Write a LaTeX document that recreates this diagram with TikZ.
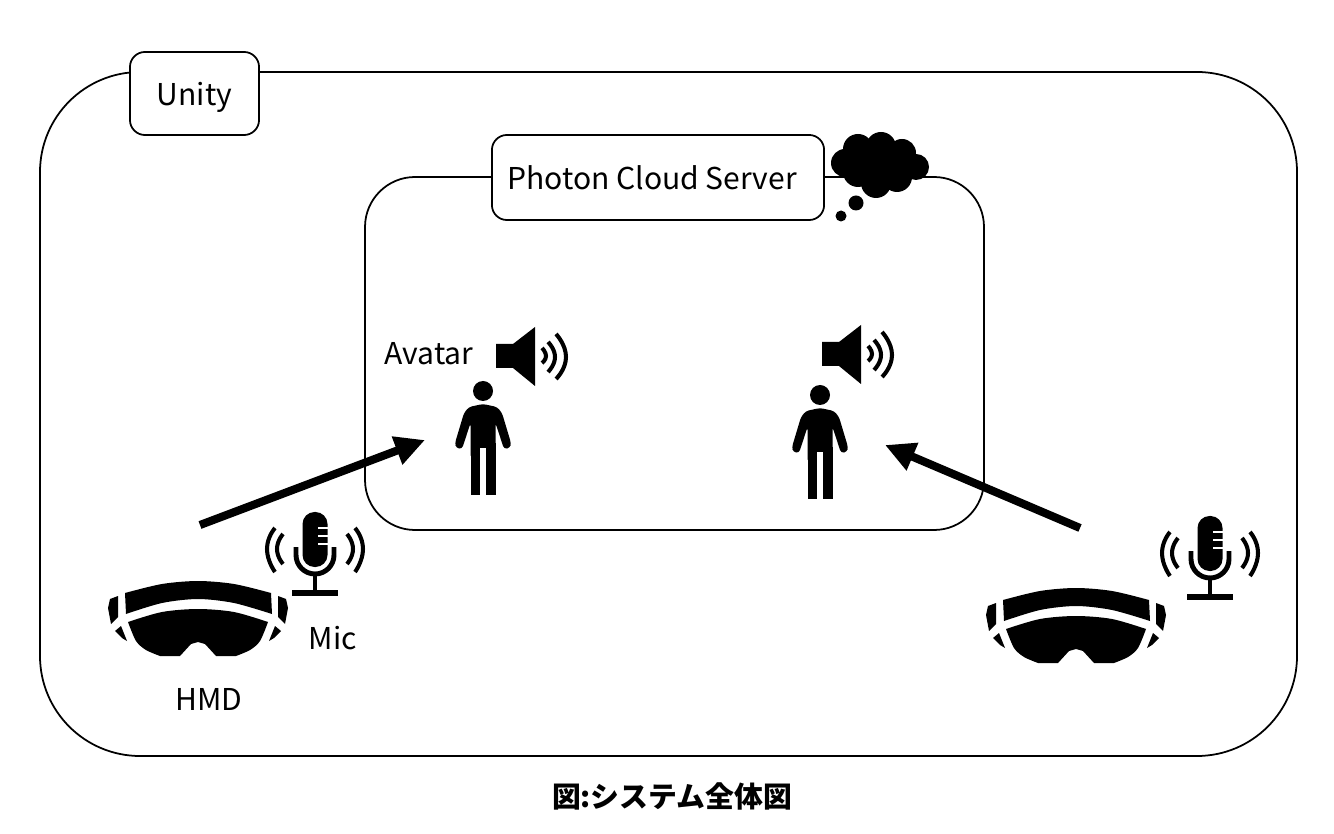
\documentclass[tikz,border=0pt]{standalone}
\usepackage{fontspec}
\setmainfont{Noto Sans CJK JP}
\usetikzlibrary{arrows.meta}
\tikzset{
    frame/.style={draw, line width=0.5pt},
    label box/.style={draw, line width=0.5pt, fill=white, rounded corners=0.15cm},
    lbl/.style={font=\fontsize{8.55}{10}\selectfont, inner sep=0pt},
    flow/.style={line width=2.3pt, -{Triangle[length=8.5pt,width=8pt]}},
    wave/.style={line width=1.15pt},
    % headset, origin at the middle of its top edge
    hmd/.pic={
        \fill plot[smooth] coordinates {(-73,12) (-36,3) (0,0) (36,3) (73,12)} -- (74,33)
            -- plot[smooth] coordinates {(74,33) (36,22) (0,18) (-36,22) (-72,33)} -- cycle;
        \fill plot[smooth] coordinates {(-70,41) (-36,31) (0,28) (36,31) (70,41)}
            -- plot[smooth] coordinates {(70,41) (62,60) (52,69) (38,75)} -- (18,75) -- (7,63) -- (0,61) -- (-7,63) -- (-18,75)
            -- plot[smooth] coordinates {(-38,75) (-52,69) (-62,60) (-70,41)} -- cycle;
        \foreach \s in {-1,1} {
            \fill (\s*80,15) -- (\s*88,18) -- (\s*90,27) -- (\s*87,43) -- (\s*80,36) -- cycle;
            \fill (\s*83,50) -- (\s*77,45) -- (\s*71,60) -- (\s*76,57) -- cycle;
        }
    },
    % microphone, origin at the top of the capsule
    mic/.pic={
        \fill[rounded corners=0.12cm] (-12.5,0) rectangle (12.5,55);
        \foreach \y in {16,24,32} {
            \draw[white, line width=0.6pt] (3,\y) -- (13,\y);
        }
        \draw[line width=1.4pt] (-19,35) -- (-19,43) arc[start angle=180, end angle=0, radius=19] -- (19,35);
        \draw[line width=1.4pt] (0,62) -- (0,80);
        \fill (-23,78) rectangle (23,84);
        \foreach \s in {-1,1} {
            \draw[wave] plot[smooth, tension=1] coordinates {(\s*32,22) (\s*38,37) (\s*32,52)};
            \draw[wave] plot[smooth, tension=1] coordinates {(\s*40,16) (\s*48,37) (\s*40,60)};
        }
    },
    % loudspeaker, origin at the left edge of the box
    speaker/.pic={
        \fill (0,-12) -- (17,-12) -- (39,-29) -- (39,30) -- (17,12) -- (0,12) -- cycle;
        \draw[wave] plot[smooth, tension=1] coordinates {(46,-8) (50,0) (46,7)};
        \draw[wave] plot[smooth, tension=1] coordinates {(52,-14) (59,1) (52,16)};
        \draw[wave] plot[smooth, tension=1] coordinates {(60,-22) (70,1) (60,23)};
    },
    % person, origin at the top of the head
    person/.pic={
        \fill (0,8) circle[radius=10];
        \fill[rounded corners=0.03cm] (0,21) -- (-14,24) -- (-19,30) -- (-28,60) -- (-27,65) -- (-21,66) -- (-12.5,40)
            -- (-12.5,75) -- (12.5,75) -- (12.5,40)
            -- (21,66) -- (27,65) -- (28,60) -- (19,30) -- (14,24) -- cycle;
        \fill (-12.5,60) rectangle (-3,112);
        \fill (3,60) rectangle (12.5,112);
        \fill[white] (-3,65) rectangle (3,80);
    },
}
\begin{document}
\begin{tikzpicture}[x=0.01cm, y=-0.01cm]
    \useasboundingbox (0,0) rectangle (1334,834);

    % Frames
    \draw[frame, rounded corners=1cm] (40,72) rectangle (1297,756);
    \draw[frame, rounded corners=0.5cm] (365,177) rectangle (984,530);
    \node[label box, minimum width=1.29cm, minimum height=0.83cm, lbl, text depth=0pt] (unity) at (194.5,93.5) {\raisebox{-0.01cm}{Unity}};
    \node[label box, minimum width=3.32cm, minimum height=0.85cm, lbl] (photon) at (658,177.5) {Photon Cloud Server\kern0.12cm};

    % Cloud
    \foreach \x/\y/\r in {845/163/14, 858/149/15, 881/147/15, 902/153/14, 916/167/13, 858/172/15, 876/183/15, 897/177/15, 880/163/24, 856/203/7.5, 841/216/5.5} {
        \fill (\x,\y) circle[radius=\r];
    }

    % Avatars
    \pic at (483,383) {person};
    \pic at (820,387) {person};
    \pic at (496,356) {speaker};
    \pic at (822,354) {speaker};
    \node[lbl] (avatar) at (429,354) {Avatar};

    % Left user
    \pic at (198,581) {hmd};
    \pic at (315,512) {mic};
    \node[lbl] (miclabel) at (333,638) {Mic};
    \node[lbl] (hmdlabel) at (209,699) {HMD};

    % Right user
    \pic at (1076,588) {hmd};
    \pic at (1210,516) {mic};

    % Flows
    \coordinate (leftuser) at (200,525);
    \coordinate (leftavatar) at (425,440);
    \coordinate (rightuser) at (1080,528);
    \coordinate (rightavatar) at (885,445);
    \draw[flow] (leftuser) -- (leftavatar);
    \draw[flow] (rightuser) -- (rightavatar);

    \node[font=\fontsize{8.2}{10}\selectfont\bfseries, inner sep=0pt] (caption) at (672,796) {図:システム全体図};
\end{tikzpicture}
\end{document}
